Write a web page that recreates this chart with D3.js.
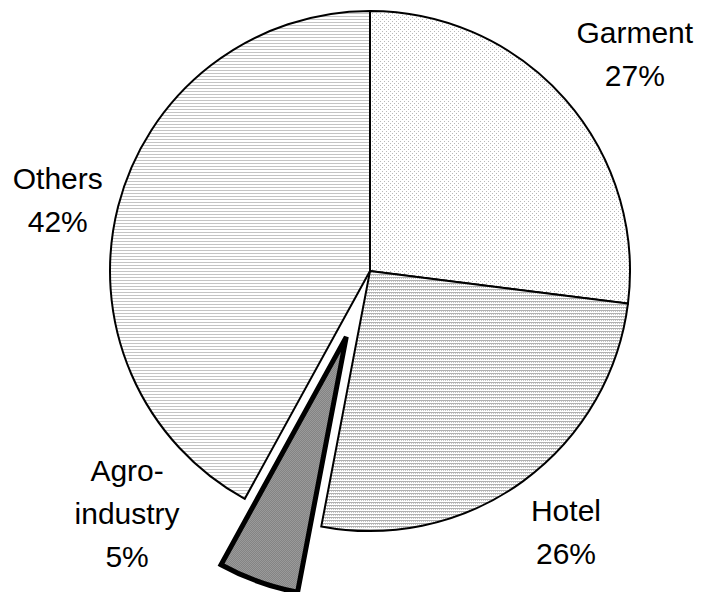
<!DOCTYPE html>
<html>
<head>
<meta charset="utf-8">
<script src="https://cdn.jsdelivr.net/npm/d3@7"></script>
<style>
  body { margin: 0; background: #fff; }
  text { font-family: Arial, "Liberation Sans", sans-serif; font-size: 30px; fill: #000; }
</style>
</head>
<body>
<div id="chart"></div>
<script>
const sectors = ["Garment", "Hotel", "Agro-industry", "Others"]
const shares = [27, 26, 5, 42]
const labelLines = [["Garment", "27%"], ["Hotel", "26%"], ["Agro-", "industry", "5%"], ["Others", "42%"]]

const width = 704
const height = 592
const cx = 370
const cy = 271
const radius = 260
const explodeDist = 70
const lineHeight = 43

// where the labels sit: polar angle (deg, clockwise from top) and distance from centre
const labelPlace = {
    "Garment": { angle: 52, r: 336 },
    "Hotel": { angle: 144.2, r: 335 },
    "Agro-industry": { angle: 223.8, r: 351 },
    "Others": { angle: 280.9, r: 318 }
}

const svg = d3.select('#chart').append('svg')
    .attr('width', width)
    .attr('height', height)

const defs = svg.append('defs')

// Garment: sparse dots
const pGarment = defs.append('pattern').attr('id', 'p-garment')
    .attr('patternUnits', 'userSpaceOnUse').attr('width', 4).attr('height', 4)
pGarment.append('rect').attr('width', 4).attr('height', 4).attr('fill', '#fff')
pGarment.append('rect').attr('x', 0).attr('y', 0).attr('width', 1).attr('height', 1).attr('fill', '#b8b8b8')
pGarment.append('rect').attr('x', 2).attr('y', 2).attr('width', 1).attr('height', 1).attr('fill', '#b8b8b8')

// Hotel: dense dotted lines
const pHotel = defs.append('pattern').attr('id', 'p-hotel')
    .attr('patternUnits', 'userSpaceOnUse').attr('width', 2).attr('height', 3)
pHotel.append('rect').attr('width', 2).attr('height', 3).attr('fill', '#fff')
pHotel.append('rect').attr('x', 0).attr('y', 0).attr('width', 2).attr('height', 1).attr('fill', '#b0b0b0')
pHotel.append('rect').attr('x', 1).attr('y', 1).attr('width', 1).attr('height', 1).attr('fill', '#c8c8c8')

// Agro-industry: dark checker
const pAgro = defs.append('pattern').attr('id', 'p-agro')
    .attr('patternUnits', 'userSpaceOnUse').attr('width', 2).attr('height', 2)
pAgro.append('rect').attr('width', 2).attr('height', 2).attr('fill', '#b4b4b4')
pAgro.append('rect').attr('x', 0).attr('y', 0).attr('width', 1).attr('height', 1).attr('fill', '#6a6a6a')
pAgro.append('rect').attr('x', 1).attr('y', 1).attr('width', 1).attr('height', 1).attr('fill', '#6a6a6a')

// Others: horizontal lines
const pOthers = defs.append('pattern').attr('id', 'p-others')
    .attr('patternUnits', 'userSpaceOnUse').attr('width', 3).attr('height', 3)
pOthers.append('rect').attr('width', 3).attr('height', 3).attr('fill', '#fff')
pOthers.append('rect').attr('x', 0).attr('y', 0).attr('width', 3).attr('height', 1).attr('fill', '#c4c4c4')

const fills = ['url(#p-garment)', 'url(#p-hotel)', 'url(#p-agro)', 'url(#p-others)']

const data = sectors.map((s, i) => ({ name: s, value: shares[i], lines: labelLines[i], fill: fills[i] }))

const pie = d3.pie().sort(null).value(d => d.value)
const arcs = pie(data)
const arc = d3.arc().innerRadius(0).outerRadius(radius)

const g = svg.append('g').attr('transform', `translate(${cx}, ${cy})`)

g.selectAll('path').data(arcs)
    .enter()
        .append('path')
            .attr('d', arc)
            .attr('fill', d => d.data.fill)
            .attr('stroke', '#000')
            .attr('stroke-width', d => d.data.name === 'Agro-industry' ? 5 : 2)
            .attr('stroke-linejoin', 'miter')
            .attr('transform', d => {
                if (d.data.name !== 'Agro-industry') return null
                const mid = (d.startAngle + d.endAngle) / 2
                return `translate(${explodeDist * Math.sin(mid)}, ${-explodeDist * Math.cos(mid)})`
            })

const labels = g.selectAll('g.label').data(arcs)
    .enter()
        .append('g')
            .attr('class', 'label')
            .attr('transform', d => {
                const p = labelPlace[d.data.name]
                const a = p.angle * Math.PI / 180
                return `translate(${p.r * Math.sin(a)}, ${-p.r * Math.cos(a)})`
            })

labels.each(function(d) {
    const n = d.data.lines.length
    d3.select(this).selectAll('text').data(d.data.lines)
        .enter()
            .append('text')
                .attr('text-anchor', 'middle')
                .attr('x', 0)
                .attr('y', (t, i) => (i - (n - 1) / 2) * lineHeight)
                .text(t => t)
})
</script>
</body>
</html>
